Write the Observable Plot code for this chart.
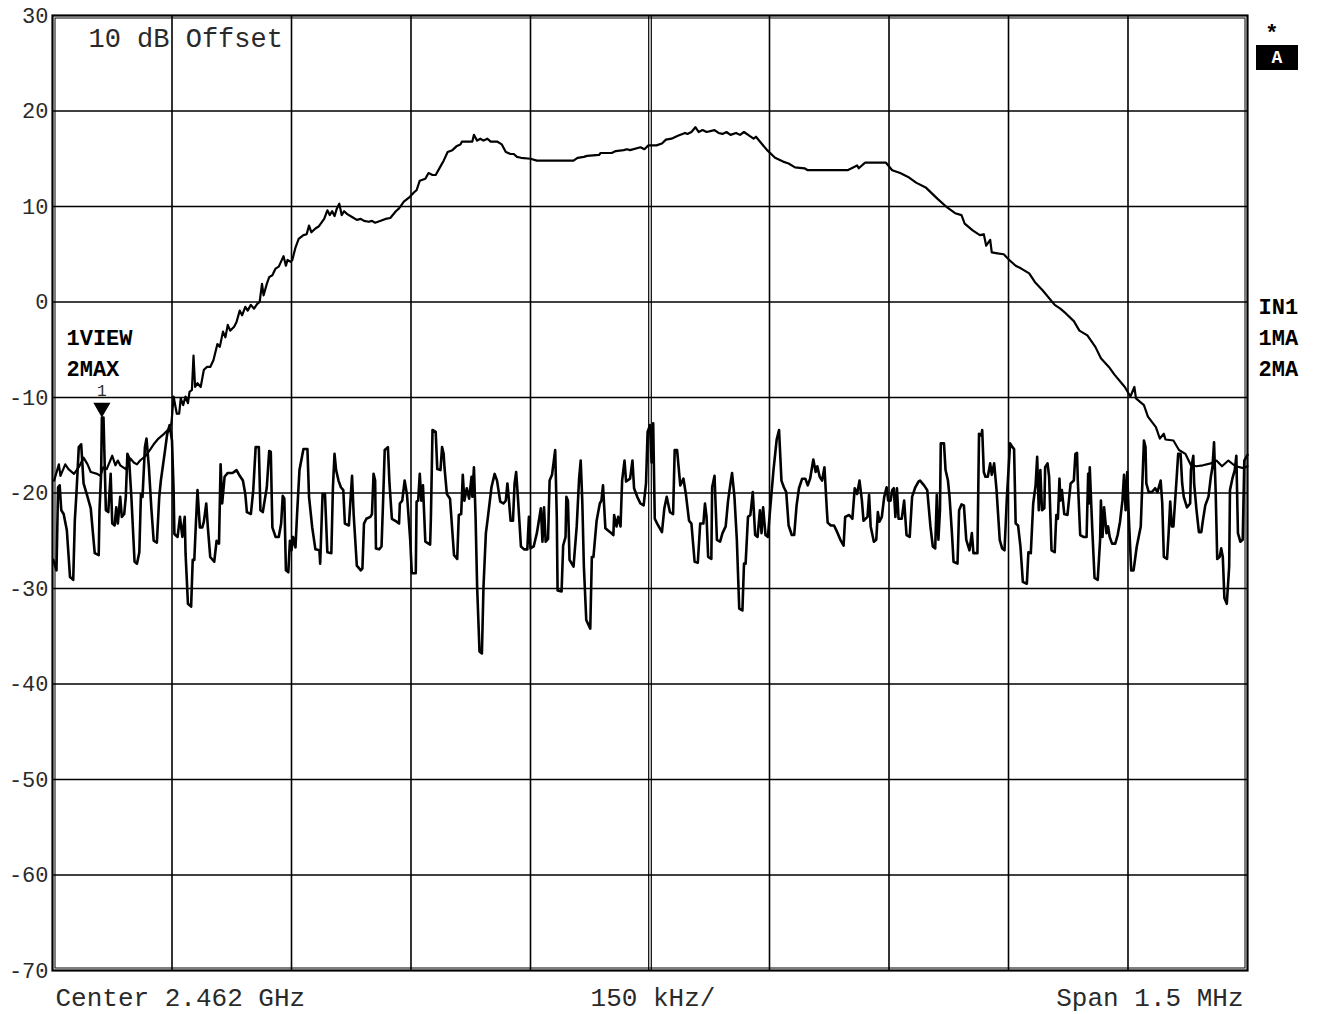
<!DOCTYPE html>
<html>
<head>
<meta charset="utf-8">
<script src="https://cdn.jsdelivr.net/npm/d3@7"></script>
<script src="https://cdn.jsdelivr.net/npm/@observablehq/plot@0.6"></script>
<style>
  html, body { margin: 0; padding: 0; background: #fff; }
  #chart svg { display: block; }
</style>
</head>
<body>
<div id="chart"></div>
<script>
// Frequency offset from center 2.462 GHz, in kHz; level in dB
const yTicks = [-70, -60, -50, -40, -30, -20, -10, 0, 10, 20, 30];
const xGrid = [-600, -450, -300, -150, 0, 150, 300, 450, 600];
const topLabel = ["10 dB Offset"];
const footerLabels = ["Center 2.462 GHz", "150 kHz/", "Span 1.5 MHz"];
const leftLabels = ["1VIEW", "2MAX"];
const rightLabels = ["IN1", "1MA", "2MA"];
const markers = [{freq: -688, db: -11.9, label: "1"}];

// Trace 1 (signal)
const signalFreq = [-748,-742,-740,-734,-730,-723,-717,-711,-706,-702,-694,-690,-686,-682,-675,-671,-668,-665,-658,-652,-648,-644,-640,-633,-627,-623,-617,-610,-604,-601,-600,-598,-594,-591,-589,-586,-583,-580,-578,-575,-573,-571,-568,-564,-560,-556,-552,-548,-543,-540,-536,-533,-530,-527,-522,-519,-515,-512,-508,-505,-501,-497,-493,-490,-487,-485,-481,-478,-474,-470,-466,-460,-457,-455,-451,-449,-445,-441,-435,-431,-428,-425,-420,-416,-409,-405,-402,-399,-396,-393,-390,-387,-384,-380,-374,-368,-363,-359,-353,-349,-345,-338,-332,-326,-319,-315,-309,-303,-296,-293,-289,-282,-278,-273,-269,-263,-259,-254,-248,-243,-238,-236,-230,-223,-221,-217,-213,-209,-204,-200,-192,-186,-181,-175,-171,-167,-162,-150,-142,-96,-91,-83,-79,-64,-62,-48,-43,-33,-29,-25,-12,-7,-2,8,15,20,27,35,44,47,52,57,61,66,71,81,86,91,96,101,108,113,118,125,130,133,140,147,157,167,174,182,194,198,248,253,260,262,270,296,304,314,324,334,346,361,373,383,391,395,405,414,419,422,427,429,436,444,451,459,466,476,483,493,508,515,522,532,539,549,559,566,576,583,596,603,608,610,620,625,635,640,645,647,657,664,672,679,686,694,704,711,718,726,735,745,750];
const signalDb = [-18.7,-17.0,-18.2,-17.0,-17.5,-18.0,-17.3,-16.3,-17.0,-17.8,-18.0,-18.2,-17.3,-17.5,-16.1,-17.1,-16.6,-17.1,-17.5,-16.4,-16.8,-17.0,-16.6,-16.1,-15.4,-14.9,-14.3,-13.8,-13.3,-12.8,-12.0,-9.9,-11.7,-11.7,-10.1,-10.8,-9.9,-10.6,-9.4,-9.2,-5.6,-8.9,-8.5,-8.9,-7.1,-6.8,-6.8,-6.1,-4.4,-4.7,-3.1,-3.7,-2.4,-3.0,-2.6,-2.1,-0.9,-1.4,-0.5,-0.9,-0.3,-0.7,-0.2,0,1.9,0.7,1.9,2.6,2.8,3.5,3.7,4.8,3.8,4.4,4.2,4.4,5.7,6.6,7.0,7.1,8.0,7.3,7.7,7.9,8.7,9.6,9.1,9.5,9.0,9.8,10.3,9.1,9.5,9.2,8.9,8.6,8.7,8.5,8.4,8.5,8.3,8.5,8.7,8.8,9.5,9.8,10.5,10.9,11.5,11.7,12.7,12.9,13.5,13.3,13.3,14.2,14.8,15.7,15.9,16.3,16.5,16.8,16.8,16.8,17.5,16.9,17.1,16.9,17.1,16.8,16.8,16.5,15.7,15.5,15.5,15.2,15.1,15.0,14.8,14.8,15.1,15.2,15.3,15.4,15.6,15.6,15.8,15.9,16.0,15.9,16.2,16.0,16.4,16.4,16.6,17.0,17.1,17.4,17.7,17.6,17.8,18.3,17.8,18.0,17.8,18.0,17.7,17.6,17.8,17.5,17.7,17.5,17.8,17.4,17.1,17.3,16.6,15.9,15.1,14.7,14.5,14.1,14.0,13.8,13.8,14.0,14.3,14.0,14.6,14.6,13.8,13.5,13.1,12.5,12.0,10.8,9.9,9.3,9.1,8.2,7.5,7.0,7.1,5.9,6.5,5.2,5.1,5.0,4.4,3.8,3.5,3.0,2.1,1.2,-0.3,-0.7,-1.2,-2.0,-3.0,-3.5,-4.7,-5.9,-6.8,-7.6,-8.9,-9.9,-8.9,-10.1,-10.8,-12.0,-13.1,-14.3,-13.8,-14.4,-14.5,-15.5,-15.9,-17.1,-17.2,-17.1,-16.9,-16.6,-17.2,-16.6,-17.2,-17.4,-17.2];

// Trace 2 (max hold, noise floor)
const noiseFreq = [-749,-745,-743,-741,-739,-736,-732,-728,-724,-722,-720,-717,-714,-711,-706,-702,-697,-692,-691,-689,-688,-686,-683,-680,-677,-675,-672,-670,-668,-665,-663,-660,-658,-656,-654,-651,-647,-644,-641,-639,-637,-634,-632,-629,-626,-623,-619,-616,-614,-609,-606,-603,-600,-598,-597,-593,-590,-587,-584,-583,-580,-576,-574,-572,-570,-568,-565,-562,-560,-557,-555,-552,-547,-544,-541,-539,-537,-534,-530,-524,-519,-515,-511,-508,-506,-501,-498,-495,-491,-489,-486,-481,-478,-476,-474,-470,-466,-463,-461,-459,-457,-454,-452,-450,-448,-445,-443,-440,-435,-430,-428,-424,-420,-415,-414,-411,-408,-405,-400,-398,-396,-394,-391,-388,-385,-383,-378,-374,-372,-368,-363,-361,-359,-356,-351,
-349,-347,-345,-344,-340,-337,-335,-333,-329,-327,-324,-318,-315,-314,-311,-308,-305,-301,-299,-294,-293,-291,-289,-287,-285,-282,-276,-275,-273,-269,-267,-263,-261,-259,-258,-255,-251,-246,-242,-240,-237,-235,-233,-230,-227,-224,-223,-221,-219,-217,-214,-211,-209,-206,-204,-199,-195,-192,-188,-184,-181,-179,-177,-175,-172,-170,-168,-166,-162,-158,-154,-152,-150,-146,-144,-142,-137,-135,-133,-131,-128,-126,-123,-119,-117,-116,-111,-109,-106,-105,-103,-101,-96,-92,-89,-87,-85,-83,-80,-75,-73,-71,-67,-63,-61,-59,-56,-50,-46,-45,-42,-40,-37,-35,-32,-30,-25,-22,-20,-16,-12,-8,-5,-3,0,2,4,6,9,15,18,21,25,29,31,34,
38,42,45,49,52,56,60,63,67,69,71,73,77,78,81,84,88,91,95,98,101,103,106,109,112,116,118,120,123,126,129,132,135,138,140,142,145,148,151,155,159,162,165,168,171,174,178,181,184,187,191,195,198,201,205,208,210,213,216,219,222,223,227,231,235,239,243,245,250,254,257,260,263,266,268,273,275,277,281,284,286,288,291,294,297,299,302,304,306,308,310,312,316,319,322,326,329,333,337,339,344,348,352,355,358,360,362,364,365,369,371,374,376,379,381,386,388,391,394,397,401,
404,406,411,413,416,417,419,421,424,427,429,432,435,439,442,445,448,452,455,457,459,462,465,468,473,475,478,481,484,486,488,490,492,495,496,499,501,504,508,510,512,514,515,517,520,524,528,532,534,536,537,540,544,548,550,551,552,555,558,562,565,566,568,570,573,575,577,580,584,587,590,593,595,597,599,601,604,607,611,616,618,620,622,623,626,630,634,637,641,643,645,649,651,653,655,657,661,663,666,668,670,674,678,679,682,683,686,689,692,694,697,701,704,706,708,710,712,715,717,719,721,724,727,728,731,734,736,738,741,744,746,750];
const noiseDb = [-27.0,-28.1,-19.4,-19.2,-21.8,-22.2,-23.9,-28.8,-29.1,-22.9,-20.1,-15.2,-14.9,-19.0,-20.4,-21.6,-26.3,-26.5,-21.8,-18.0,-12.1,-12.1,-21.8,-22.0,-18.0,-23.2,-23.4,-21.5,-23.2,-20.4,-22.5,-22.2,-20.4,-15.9,-16.3,-20.4,-27.2,-27.4,-26.2,-20.1,-20.4,-15.2,-14.3,-17.3,-21.5,-25.0,-25.2,-20.4,-18.7,-15.7,-13.8,-12.9,-14.5,-19.7,-24.3,-24.6,-22.5,-24.6,-22.5,-26.3,-31.6,-31.9,-27.0,-27.0,-23.2,-19.7,-23.6,-23.6,-23.0,-21.1,-23.6,-26.7,-27.2,-25.0,-25.3,-17.0,-21.1,-18.3,-17.9,-17.9,-17.6,-18.2,-18.7,-20.1,-22.0,-22.2,-19.7,-15.2,-15.2,-21.8,-22.0,-19.4,-15.6,-15.7,-23.6,-24.6,-24.6,-23.2,-20.3,-20.6,-28.1,-28.3,-25.0,-26.0,-24.6,-25.7,-22.2,-17.6,-15.4,-15.4,-20.4,-23.6,-25.9,-26.0,-27.4,-20.1,-20.1,-26.2,-26.3,-19.4,-15.9,-17.6,-18.7,-19.4,-19.7,-23.2,-23.4,-18.2,-22.2,-27.6,-28.1,-27.9,-23.2,-22.7,-22.5,
-22.2,-18.0,-18.7,-25.8,-25.9,-25.6,-20.8,-15.5,-15.2,-19.0,-22.7,-23.0,-23.2,-21.1,-20.8,-18.7,-20.2,-24.9,-28.4,-28.4,-20.9,-20.8,-18.0,-20.8,-19.2,-25.1,-25.4,-22.5,-13.4,-13.6,-17.5,-17.6,-15.2,-15.9,-17.3,-20.1,-20.6,-26.5,-26.9,-22.3,-22.2,-18.1,-20.8,-19.5,-20.6,-18.3,-20.4,-17.3,-22.3,-29.8,-36.6,-36.8,-29.8,-24.2,-22.9,-19.4,-18.0,-18.7,-20.9,-21.1,-20.8,-19.0,-20.8,-22.9,-22.9,-19.0,-17.8,-20.2,-25.6,-25.9,-25.9,-22.5,-25.8,-25.6,-24.9,-24.2,-21.6,-25.1,-21.5,-25.1,-24.8,-18.7,-18.1,-15.5,-22.5,-30.2,-30.3,-25.5,-24.6,-20.4,-20.8,-27.0,-27.7,-23.5,-18.5,-16.6,-20.8,-27.7,-33.3,-34.2,-26.7,-26.7,-22.9,-21.1,-20.8,-19.2,-23.7,-24.1,-24.4,-22.3,-23.5,-22.5,-23.5,-18.7,-16.6,-18.8,-18.5,-16.6,-19.5,-20.4,-21.1,-21.3,-19.0,-13.6,-12.9,-16.8,-12.7,-22.7,-23.2,-24.1,-21.6,-20.4,-22.0,-22.2,-15.5,-15.5,
-19.2,-18.5,-20.1,-22.9,-23.2,-27.2,-27.3,-23.2,-23.2,-21.1,-22.5,-26.7,-26.9,-19.4,-18.2,-24.9,-25.1,-24.2,-23.5,-20.8,-19.0,-17.9,-20.4,-24.9,-32.1,-32.3,-27.4,-27.4,-22.5,-22.3,-19.9,-24.4,-24.6,-21.8,-24.2,-21.5,-24.4,-24.6,-21.5,-17.6,-14.4,-13.4,-18.7,-19.4,-19.9,-23.4,-24.4,-24.4,-21.3,-19.5,-18.5,-18.5,-19.2,-18.5,-16.5,-17.8,-17.2,-18.3,-18.7,-17.3,-21.8,-23.1,-23.4,-23.4,-24.1,-24.9,-25.5,-22.5,-22.3,-22.7,-19.5,-20.1,-18.7,-20.8,-22.9,-22.5,-20.2,-23.5,-25.1,-24.9,-22.0,-23.0,-22.5,-20.4,-19.4,-20.8,-20.8,-19.7,-19.5,-22.5,-19.5,-22.7,-22.7,-20.8,-24.4,-24.6,-20.4,-19.4,-18.8,-18.7,-19.2,-19.7,-23.5,-25.6,-25.8,-20.2,-24.9,-21.8,-14.8,-14.8,-17.6,-18.7,-20.4,-24.2,-27.2,-27.4,-21.8,-21.2,-21.3,-24.9,-26.0,
-24.2,-26.3,-26.3,-13.8,-14.0,-13.4,-17.8,-18.3,-18.3,-16.9,-18.1,-16.9,-19.7,-24.9,-25.8,-26.0,-20.4,-14.8,-15.2,-15.4,-23.2,-23.4,-25.6,-29.3,-29.5,-26.2,-26.3,-21.1,-19.2,-16.2,-21.8,-17.6,-21.8,-21.6,-17.3,-16.9,-18.3,-26.0,-26.2,-22.3,-22.7,-18.5,-20.8,-19.7,-22.2,-22.3,-19.0,-18.7,-15.9,-15.8,-18.7,-24.4,-24.6,-24.6,-18.0,-21.1,-17.3,-23.5,-28.9,-29.1,-24.9,-20.8,-24.6,-21.5,-24.2,-23.5,-24.6,-25.3,-25.3,-24.4,-23.0,-20.8,-18.1,-21.8,-17.8,-22.5,-28.1,-28.1,-25.6,-23.5,-19.0,-14.5,-15.2,-19.0,-19.9,-19.9,-19.5,-19.9,-18.7,-21.1,-26.7,-26.9,-24.2,-20.9,-23.5,-23.5,-18.5,-15.9,-15.9,-19.0,-20.4,-21.5,-21.1,-17.6,-16.1,-19.0,-21.8,-24.1,-24.1,-22.9,-21.3,-20.4,-18.3,-17.3,-14.7,-19.7,-26.9,-26.7,-25.8,-26.7,-31.0,-31.6,-27.7,-19.7,-18.5,-17.6,-16.1,-24.2,-25.1,-24.9,-16.6,-16.0];

const signal = signalFreq.map((f, i) => ({freq: f, db: signalDb[i]}));
const noise = noiseFreq.map((f, i) => ({freq: f, db: noiseDb[i]}));

const FONT = "'Liberation Mono', 'DejaVu Sans Mono', monospace";
const textFill = "#2a2a2a";

// Status box "A" at the top right, outside the frame
const statusBox = (index, scales, values, dims) => {
  const g = d3.create("svg:g");
  const x0 = dims.width - dims.marginRight + 9;
  const y0 = dims.marginTop + 30;
  g.append("rect").attr("x", x0).attr("y", y0).attr("width", 42).attr("height", 25).attr("fill", "black");
  g.append("text").attr("x", x0 + 21).attr("y", y0 + 13).attr("text-anchor", "middle")
    .attr("dominant-baseline", "central").attr("fill", "white")
    .attr("font-weight", "bold").attr("font-size", 18).attr("font-family", FONT).text("A");
  return g.node();
};

const label = (data, opts) => Plot.text(data, {lineAnchor: "middle", ...opts});

const chart = Plot.plot({
  width: 1317,
  height: 1014,
  marginLeft: 52,
  marginRight: 70,
  marginTop: 15,
  marginBottom: 44,
  style: {fontFamily: FONT, background: "white", color: "black"},
  x: {domain: [-750, 750], axis: null},
  y: {domain: [-70, 30], axis: null},
  marks: [
    Plot.ruleY(yTicks.slice(1, -1), {stroke: "black", strokeWidth: 1.6}),
    Plot.ruleX(xGrid.filter(d => d !== 0), {stroke: "black", strokeWidth: 1.6}),
    Plot.ruleX([0], {stroke: "black", strokeWidth: 1.2, dx: -1.3}),
    Plot.ruleX([0], {stroke: "black", strokeWidth: 1.2, dx: 1.3}),
    Plot.frame({stroke: "black", strokeWidth: 2.2}),
    Plot.frame({stroke: "black", strokeWidth: 1, inset: 2.5}),
    Plot.axisY({ticks: yTicks, tickSize: 0, tickPadding: 4, fontSize: 22, tickFormat: d => String(d), label: null, fill: textFill}),
    Plot.line(noise, {x: "freq", y: "db", stroke: "black", strokeWidth: 2.6}),
    Plot.line(signal, {x: "freq", y: "db", stroke: "black", strokeWidth: 2.2}),
    Plot.dot(markers, {x: "freq", y: "db", symbol: "triangle", rotate: 180, r: 5.4, fill: "black", stroke: "black", dy: -8}),
    label(markers, {x: "freq", y: "db", text: "label", dy: -25, fontSize: 16, fill: textFill}),
    label(topLabel, {frameAnchor: "top-left", dx: 36, dy: 23, textAnchor: "start", fontSize: 27, fill: textFill}),
    label([footerLabels[0]], {frameAnchor: "bottom-left", dx: 3, dy: 27, textAnchor: "start", fontSize: 26, fill: textFill}),
    label([footerLabels[1]], {frameAnchor: "bottom", dx: 3, dy: 27, fontSize: 26, fill: textFill}),
    label([footerLabels[2]], {frameAnchor: "bottom-right", dx: -4, dy: 27, textAnchor: "end", fontSize: 26, fill: textFill}),
    ...leftLabels.map((t, i) => label([t], {frameAnchor: "top-left", dx: 14, dy: 322 + i * 31, textAnchor: "start", fontSize: 22, fontWeight: "bold", fill: "black"})),
    ...rightLabels.map((t, i) => label([t], {frameAnchor: "top-right", dx: 11, dy: 291 + i * 31, textAnchor: "start", fontSize: 22, fontWeight: "bold", fill: "black"})),
    label(["*"], {frameAnchor: "top-right", dx: 31, dy: 17, fontSize: 22, fontWeight: "bold", fill: "black"}),
    statusBox
  ]
});
document.getElementById("chart").appendChild(chart);
</script>
</body>
</html>
